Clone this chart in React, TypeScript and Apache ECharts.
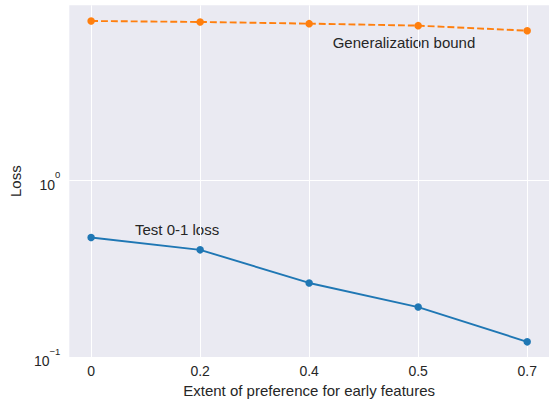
import React, { useEffect, useRef } from "react";
import * as echarts from "echarts";

// Extent of preference for early features (x tick labels)
const categories = ["0", "0.2", "0.4", "0.5", "0.7"];
// Test 0-1 loss per setting
const testLoss = [0.476, 0.405, 0.263, 0.192, 0.122];
// Generalization bound per setting
const genBound = [8.01, 7.91, 7.74, 7.54, 7.06];
// Major ticks on the log-scaled loss axis
const yTicks = [0.1, 1];

const FONT = "'Liberation Sans', Arial, Helvetica, sans-serif";
const TEXT = "#262626";
const BLUE = "#1f77b4";
const ORANGE = "#ff7f0e";

export default function App() {
  const ref = useRef<HTMLDivElement>(null);

  useEffect(() => {
    if (!ref.current) return;
    const chart = echarts.init(ref.current, null, { renderer: "svg" });
    const idx = categories.map((_, i) => i);

    chart.setOption({
      animation: false,
      backgroundColor: "#ffffff",
      textStyle: { fontFamily: FONT, color: TEXT },
      grid: {
        left: 68.3,
        top: 5.3,
        width: 484,
        height: 352.1,
        show: true,
        backgroundColor: "#EAEAF2",
        borderWidth: 0,
      },
      xAxis: {
        type: "value",
        min: -0.2,
        max: categories.length - 1 + 0.2,
        name: "Extent of preference for early features",
        nameLocation: "middle",
        nameGap: 24,
        nameTextStyle: { fontSize: 15, color: TEXT, fontFamily: FONT },
        axisLine: { show: false },
        axisTick: { show: false, customValues: idx },
        axisLabel: {
          customValues: idx,
          fontSize: 14,
          color: TEXT,
          fontFamily: FONT,
          margin: 7,
          formatter: (v: number) => categories[Math.round(v)] ?? "",
        },
        splitLine: { show: true, lineStyle: { color: "#ffffff", width: 1 } },
      },
      yAxis: {
        type: "log",
        logBase: 10,
        min: 0.1,
        max: 9.83,
        name: "Loss",
        nameLocation: "middle",
        nameGap: 42,
        nameTextStyle: { fontSize: 15, color: TEXT, fontFamily: FONT },
        axisLine: { show: false },
        axisTick: { show: false, customValues: yTicks },
        minorTick: { show: false },
        axisLabel: {
          customValues: yTicks,
          margin: 9,
          formatter: (v: number) => {
            const e = Math.round(Math.log10(v));
            const s = e < 0 ? "\u2212" + -e : String(e);
            return `{b|10}{s|${s}}`;
          },
          rich: {
            b: {
              fontSize: 14,
              color: TEXT,
              fontFamily: FONT,
              lineHeight: 22,
              verticalAlign: "bottom",
            },
            s: {
              fontSize: 9.5,
              color: TEXT,
              fontFamily: FONT,
              verticalAlign: "top",
            },
          },
        },
        splitLine: { show: true, lineStyle: { color: "#ffffff", width: 1 } },
      },
      series: [
        {
          name: "Test 0-1 loss",
          type: "line",
          data: testLoss.map((v, i) => [i, v]),
          symbol: "circle",
          symbolSize: 7.5,
          itemStyle: { color: BLUE },
          lineStyle: { color: BLUE, width: 1.9 },
          z: 3,
        },
        {
          name: "Generalization bound",
          type: "line",
          data: genBound.map((v, i) => [i, v]),
          symbol: "circle",
          symbolSize: 7.5,
          itemStyle: { color: ORANGE },
          lineStyle: { color: ORANGE, width: 1.9, type: [6.9, 3] },
          z: 3,
        },
      ],
      graphic: [
        {
          type: "text",
          x: 135,
          y: 229,
          style: {
            text: "Test 0-1 loss",
            fontSize: 15,
            fontFamily: FONT,
            fill: TEXT,
            align: "left",
            verticalAlign: "middle",
          },
        },
        {
          type: "text",
          x: 332.7,
          y: 42.5,
          style: {
            text: "Generalization bound",
            fontSize: 15,
            fontFamily: FONT,
            fill: TEXT,
            align: "left",
            verticalAlign: "middle",
          },
        },
      ],
    });

    return () => chart.dispose();
  }, []);

  return (
    <div
      ref={ref}
      style={{
        position: "absolute",
        left: 0,
        top: 0,
        width: 549,
        height: 403,
        overflow: "hidden",
      }}
    />
  );
}
